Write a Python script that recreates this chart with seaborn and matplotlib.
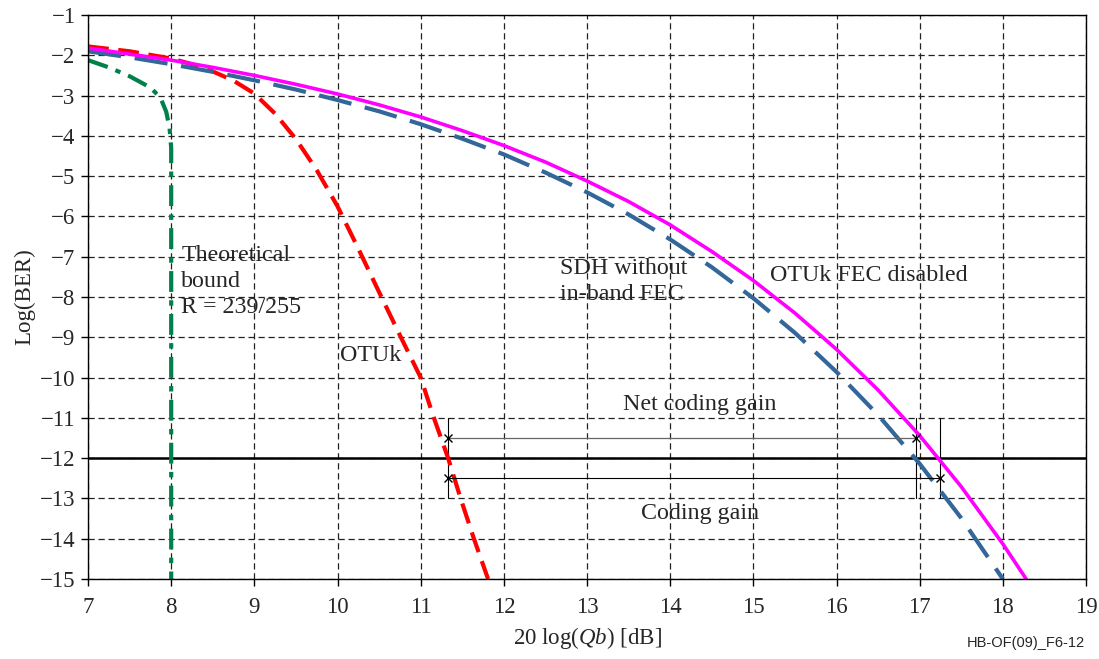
import numpy as np
import pandas as pd
import matplotlib
matplotlib.use("Agg")
import matplotlib.pyplot as plt
import seaborn as sns

sns.set_style("ticks")
plt.rcParams["font.family"] = ["Liberation Serif", "DejaVu Serif"]
plt.rcParams["mathtext.fontset"] = "custom"
plt.rcParams["mathtext.rm"] = "Liberation Serif"
plt.rcParams["mathtext.it"] = "Liberation Serif:italic"
plt.rcParams["axes.unicode_minus"] = True

# OTUk FEC disabled (magenta)
fec_off_x = [7, 7.5, 8, 8.5, 9, 9.5, 10, 10.5, 11, 11.5, 12, 12.5, 13, 13.5,
             14, 14.5, 15, 15.5, 16, 16.5, 17, 17.5, 18, 18.28]
fec_off_y = [-1.82, -1.97, -2.12, -2.30, -2.50, -2.72, -2.96, -3.23, -3.53, -3.87,
             -4.24, -4.65, -5.12, -5.63, -6.21, -6.87, -7.59, -8.40, -9.30, -10.31,
             -11.44, -12.71, -14.13, -15.0]

# SDH without in-band FEC (blue)
sdh_x = [7, 7.5, 8, 8.5, 9, 9.5, 10, 10.5, 11, 11.5, 12, 12.5, 13, 13.5,
         14, 14.5, 15, 15.5, 16, 16.5, 17, 17.5, 18]
sdh_y = [-1.90, -2.05, -2.22, -2.41, -2.62, -2.85, -3.11, -3.39, -3.71, -4.07,
         -4.46, -4.91, -5.40, -5.95, -6.57, -7.26, -8.03, -8.89, -9.86, -10.93,
         -12.14, -13.49, -15.0]

# OTUk (red)
otuk_x = [7, 7.5, 8, 8.25, 8.5, 8.75, 9, 9.25, 9.5, 9.75, 10, 10.25, 10.5, 10.75, 11,
          11.15, 11.33, 11.48, 11.64, 11.81]
otuk_y = [-1.78, -1.90, -2.08, -2.22, -2.40, -2.63, -2.95, -3.45, -4.08, -4.85,
          -5.75, -6.8, -7.88, -8.95, -10.0, -10.95, -12.0, -13.0, -14.0, -15.0]

# Theoretical bound R = 239/255 (green)
bound_x = [7, 7.25, 7.5, 7.75, 7.87, 7.94, 7.98, 8.0, 8.0]
bound_y = [-2.12, -2.30, -2.52, -2.80, -3.05, -3.40, -3.80, -4.3, -15.0]

# coding gain annotations
otuk_q, sdh_q, fec_off_q = 11.33, 16.95, 17.25
net_gain_ber, gain_ber, ref_ber = -11.5, -12.5, -12.0

fig = plt.figure(figsize=(10.99, 6.59), dpi=100)
ax = fig.add_axes([0.0801, 0.1214, 0.9081, 0.8558])

sns.lineplot(x=bound_x, y=bound_y, ax=ax, sort=False, estimator=None,
             color="#00804A", lw=3, linestyle=(0, (5, 2, 1.3, 2)))
sns.lineplot(x=otuk_x, y=otuk_y, ax=ax, sort=False, estimator=None,
             color="#FF0000", lw=3, linestyle=(0, (5, 2.3)))
sns.lineplot(x=sdh_x, y=sdh_y, ax=ax, sort=False, estimator=None,
             color="#336699", lw=3, linestyle=(0, (8, 3.3)))
sns.lineplot(x=fec_off_x, y=fec_off_y, ax=ax, sort=False, estimator=None,
             color="#FF00FF", lw=2.6)

ax.axhline(ref_ber, color="black", lw=1.8, zorder=1)

# gain brackets
for q in (otuk_q, sdh_q, fec_off_q):
    ax.plot([q, q], [-11, -13], color="black", lw=0.8, zorder=1)
ax.plot([otuk_q, sdh_q], [net_gain_ber, net_gain_ber], color="#666666", lw=0.9,
        marker="x", ms=6, mec="black", mew=1)
ax.plot([otuk_q, fec_off_q], [gain_ber, gain_ber], color="black", lw=0.8,
        marker="x", ms=6, mec="black", mew=1)

ax.set_xlim(7, 19)
ax.set_ylim(-15, -1)
ax.set_xticks(range(7, 20))
ax.set_yticks(range(-15, 0))
ax.grid(True, color="#222222", lw=0.9, linestyle=(0, (5, 3)))
ax.set_axisbelow(True)
for s in ax.spines.values():
    s.set_visible(True)
    s.set_color("black")
    s.set_linewidth(1.0)
ax.tick_params(axis="both", labelsize=16.5, direction="out", length=5,
               width=1, color="black")
ax.tick_params(axis="x", pad=8)
ax.tick_params(axis="y", pad=4)

ax.set_xlabel(r"20 log($\mathit{Qb}$) [dB]", fontsize=16.5, labelpad=5)
ax.set_ylabel("Log(BER)", fontsize=16.5, labelpad=3)

fs = 17.3
ax.text(8.12, -6.72, "Theoretical\nbound\nR = 239/255", fontsize=fs, va="top",
        ha="left", linespacing=1.3)
ax.text(10.03, -9.44, "OTUk", fontsize=fs, va="center", ha="left")
ax.text(12.68, -7.62, "SDH without\nin-band FEC", fontsize=fs, va="center",
        ha="left", linespacing=1.3)
ax.text(15.2, -7.47, "OTUk FEC disabled", fontsize=fs, va="center", ha="left")
ax.text(14.36, -10.68, "Net coding gain", fontsize=fs, va="center", ha="center")
ax.text(14.36, -13.38, "Coding gain", fontsize=fs, va="center", ha="center")

fig.text(0.987, 0.025, "HB-OF(09)_F6-12", fontsize=10.5, ha="right", va="center",
         family="Liberation Sans")

fig.savefig("out.png", dpi=100)
